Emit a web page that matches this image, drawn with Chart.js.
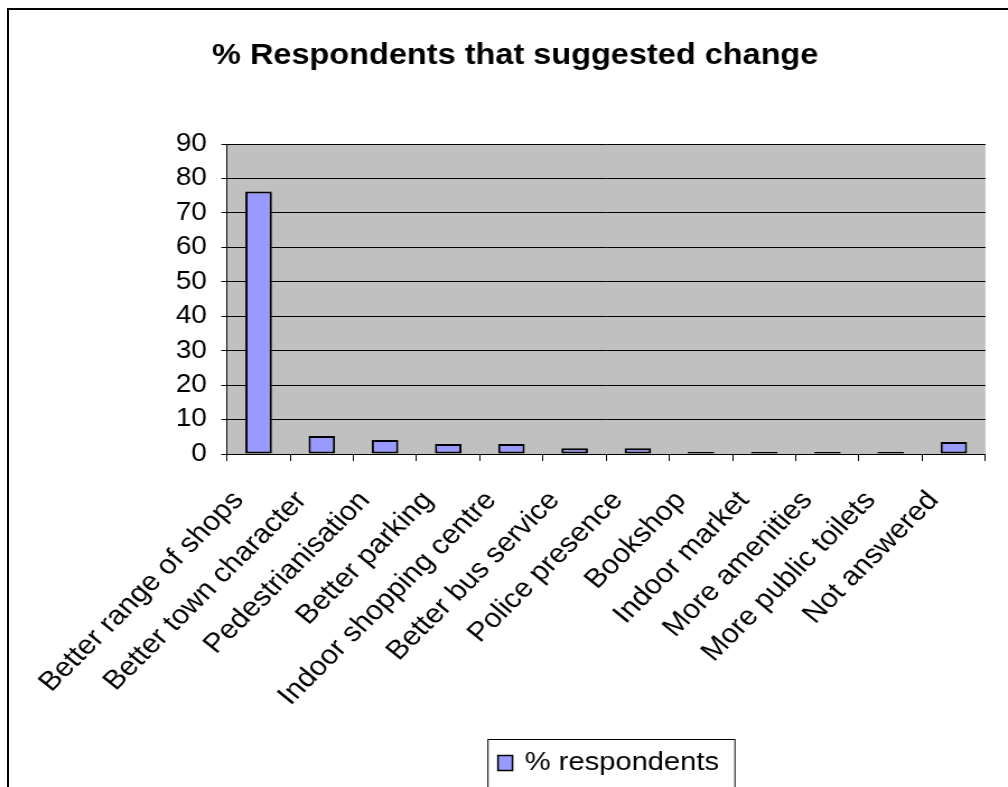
<!DOCTYPE html>
<html lang="en">
<head>
<meta charset="utf-8">
<title>% Respondents that suggested change</title>
<script src="https://cdn.jsdelivr.net/npm/chart.js@4/dist/chart.umd.min.js"></script>
<style>
    html, body {
        margin: 0;
        padding: 0;
        background: #ffffff;
        overflow: hidden;
        width: 1008px;
        height: 787px;
    }
    /* outer frame of the chart sheet */
    .frame {
        position: absolute;
        left: 7px;
        top: 8px;
        width: 1100px;
        height: 900px;
        border-left: 2px solid #000;
        border-top: 2px solid #000;
    }
    /* the sheet is drawn slightly wide, as in the spreadsheet export */
    .stretch {
        position: absolute;
        left: 0;
        top: 0;
        transform: scaleX(1.12);
        transform-origin: 0 0;
    }
</style>
</head>
<body>
<div class="frame"></div>
<div class="stretch">
    <canvas id="changeChart" width="900" height="787"></canvas>
</div>
<script>
// Suggested changes and share of respondents (%)
const categories = [
    'Better range of shops',
    'Better town character',
    'Pedestrianisation',
    'Better parking',
    'Indoor shopping centre',
    'Better bus service',
    'Police presence',
    'Bookshop',
    'Indoor market',
    'More amenities',
    'More public toilets',
    'Not answered'
];
const respondents = [76.2, 5.2, 4.1, 2.9, 2.9, 1.7, 1.7, 0.6, 0.6, 0.6, 0.6, 3.5];
const yTicks = [0, 10, 20, 30, 40, 50, 60, 70, 80, 90];

const seriesLabel = '% respondents';
const chartTitle = '% Respondents that suggested change';

const FONT = "Arial, 'Liberation Sans', Helvetica, sans-serif";
const BAR_COLOR = '#9999ff';
const PLOT_BG = '#c0c0c0';

Chart.defaults.font.family = FONT;
Chart.defaults.color = '#000000';

// grey plot area behind the bars
const plotBackground = {
    id: 'plotBackground',
    beforeDraw(chart) {
        const { ctx, chartArea } = chart;
        ctx.save();
        ctx.fillStyle = PLOT_BG;
        ctx.fillRect(chartArea.left, chartArea.top,
            chartArea.right - chartArea.left, chartArea.bottom - chartArea.top);
        ctx.restore();
    }
};

// boxed legend sitting under the category labels
const boxedLegend = {
    id: 'boxedLegend',
    afterDraw(chart) {
        const ctx = chart.ctx;
        const ds = chart.data.datasets[0];
        ctx.save();
        ctx.strokeStyle = '#000000';
        ctx.lineWidth = 1;
        ctx.strokeRect(435.7, 739.5, 220.5, 80);

        ctx.fillStyle = ds.backgroundColor;
        ctx.fillRect(444.6, 755.5, 13, 15);
        ctx.lineWidth = 1.5;
        ctx.strokeRect(444.6, 755.5, 13, 15);

        ctx.fillStyle = '#000000';
        ctx.font = `26px ${FONT}`;
        ctx.textBaseline = 'middle';
        ctx.textAlign = 'left';
        ctx.fillText(ds.label, 468.5, 763);
        ctx.restore();
    }
};

function initChart() {
    const ctx = document.getElementById('changeChart');

    new Chart(ctx, {
        type: 'bar',
        data: {
            labels: categories,
            datasets: [{
                label: seriesLabel,
                data: respondents,
                backgroundColor: BAR_COLOR,
                borderColor: '#000000',
                borderWidth: 2,
                borderSkipped: false,
                barPercentage: 0.42,
                categoryPercentage: 1.0
            }]
        },
        options: {
            responsive: false,
            animation: false,
            layout: {
                padding: { left: 27, right: 7, top: 0, bottom: 0 }
            },
            plugins: {
                legend: { display: false },
                tooltip: { enabled: false },
                title: {
                    display: true,
                    text: chartTitle,
                    color: '#000000',
                    font: { size: 29, weight: 'bold' },
                    padding: { top: 38.6, bottom: 70.6 }
                }
            },
            scales: {
                x: {
                    offset: true,
                    grid: {
                        offset: true,
                        drawOnChartArea: false,
                        drawTicks: true,
                        tickLength: 7,
                        color: '#000000'
                    },
                    border: { color: '#000000', width: 1 },
                    ticks: {
                        autoSkip: false,
                        minRotation: 48,
                        maxRotation: 48,
                        padding: 24,
                        labelOffset: -18,
                        color: '#000000',
                        font: { size: 27 }
                    },
                    afterFit(scale) {
                        scale.height = 333;
                    }
                },
                y: {
                    min: 0,
                    max: 90,
                    afterBuildTicks(scale) {
                        scale.ticks = yTicks.map(v => ({ value: v }));
                    },
                    grid: {
                        color: '#000000',
                        lineWidth: 1,
                        tickLength: 5
                    },
                    border: { color: '#000000', width: 1 },
                    ticks: {
                        padding: 13,
                        color: '#000000',
                        font: { size: 25 }
                    },
                    afterFit(scale) {
                        scale.width = 175.7;
                    }
                }
            }
        },
        plugins: [plotBackground, boxedLegend]
    });
}

document.addEventListener('DOMContentLoaded', initChart);
</script>
</body>
</html>
